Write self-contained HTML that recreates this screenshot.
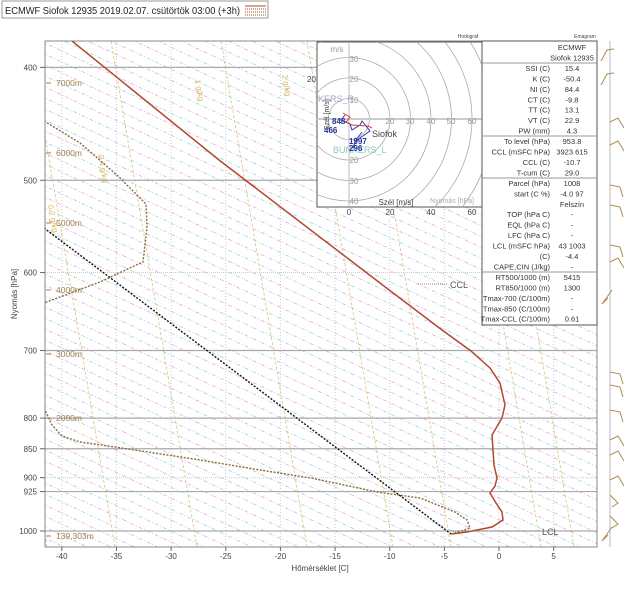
<!DOCTYPE html>
<html><head><meta charset="utf-8"><style>
html,body{margin:0;padding:0;background:#fff;overflow:hidden;width:640px;height:589px;}
svg{display:block;font-family:"Liberation Sans",sans-serif;}
</style></head><body>
<svg id="s" width="640" height="589" viewBox="0 0 640 589" xmlns="http://www.w3.org/2000/svg">
<defs><clipPath id="pc"><rect x="45" y="41" width="552" height="506"/></clipPath>
<clipPath id="hcp"><rect x="317" y="42" width="165" height="165"/></clipPath></defs>
<rect x="2" y="1" width="266" height="17" fill="#fff" stroke="#999"/>
<text x="5" y="14" font-size="9.8" fill="#222" textLength="235" lengthAdjust="spacingAndGlyphs">ECMWF Siofok 12935 2019.02.07. csütörtök 03:00 (+3h)</text>
<g stroke="#b5452e" stroke-width="1"><line x1="245" y1="6" x2="266" y2="6"/></g>
<g stroke="#a0522d" stroke-dasharray="1,1"><line x1="245" y1="9" x2="266" y2="9"/><line x1="245" y1="12" x2="266" y2="12"/><line x1="245" y1="15" x2="266" y2="15"/></g>
<g id="bg" clip-path="url(#pc)"></g>
<rect x="45" y="41" width="552" height="506" fill="none" stroke="#888"/>
<g clip-path="url(#pc)" fill="none">
<polyline stroke="#b5452e" stroke-width="1.5" points="72,41 219,160 380,283 442,330 471,351 490,368 500,383 505,405 502,418 492,435 493,450 494,465 497,478 495,486 490,493 496,503 502,512 503,520 492,527 467,532 451,534"/>
<polyline stroke="#8b6a3a" stroke-width="1.4" stroke-dasharray="2,1.5" points="44,121 80,143 118,176 146,204 147,227 143,262 134,266 100,282 44,303"/>
<polyline stroke="#8b6a3a" stroke-width="1.4" stroke-dasharray="2,1.5" points="44,408 52,425 62,436 80,442 115,447 200,460 260,470 311,478 377,492 420,498 430,502 455,512 467,520 470,528 452,534"/>
<polyline stroke="#111" stroke-width="1.4" stroke-dasharray="2,1.5" points="44,228 451,534"/>
<line x1="451" y1="531" x2="540" y2="531" stroke="#888" stroke-dasharray="1,1"/>
<line x1="418" y1="284" x2="447" y2="284" stroke="#888" stroke-dasharray="1,1"/>
</g>
<text x="542" y="535" font-size="9" fill="#555">LCL</text>
<text x="450" y="288" font-size="9" fill="#555">CCL</text>
<g>
<rect x="317" y="42" width="165" height="165" fill="#fff" stroke="#555"/>
<g fill="none" stroke="#aaa" stroke-width="0.8" id="hc" clip-path="url(#hcp)"></g>
<line x1="317" y1="119" x2="482" y2="119" stroke="#ccc" stroke-width="2"/>
<line x1="349" y1="42" x2="349" y2="207" stroke="#bbb"/>
<g font-size="8" fill="#999" text-anchor="middle">
<text x="354" y="62">30</text><text x="354" y="82">20</text><text x="354" y="103">10</text>
<text x="354" y="163">20</text><text x="354" y="184">30</text><text x="354" y="204">40</text>
<text x="390" y="124">20</text><text x="410" y="124">30</text><text x="431" y="124">40</text><text x="451" y="124">50</text><text x="472" y="124">60</text>
<text x="337" y="52">m/s</text>
</g>
<text x="452" y="203" font-size="7" fill="#aaa" text-anchor="middle">Nyomás [hPa]</text>
<text x="396" y="205" font-size="8" fill="#444" text-anchor="middle">Szél [m/s]</text>
<text x="329" y="130" font-size="7" fill="#444" transform="rotate(-90 329 130)">Szél [m/s]</text>
<text x="318" y="102" font-size="9" fill="#b39ad0">KERS_R</text>
<text x="333" y="153" font-size="9" fill="#8fc8c0">BUNKERS_L</text>
<polyline fill="none" stroke="#2a3bb0" points="345,115 341,120 350,124 352,130 360,125 362,121 366,126 370,131 360,138 355,142 353,148 356,140 362,132"/>
<polyline fill="none" stroke="#d04040" points="343,113 350,117 346,122 352,125 368,126 372,128"/>
<text x="332" y="124" font-size="8" font-weight="bold" fill="#223399">848</text>
<text x="324" y="133" font-size="8" font-weight="bold" fill="#223399">466</text>
<text x="349" y="144" font-size="8" font-weight="bold" fill="#223399">1997</text>
<text x="349" y="151" font-size="8" font-weight="bold" fill="#223399">296</text>
<text x="372" y="137" font-size="9" fill="#444">Siofok</text>
<text x="307" y="82" font-size="8" fill="#444">20</text>
<g font-size="8" fill="#444" text-anchor="middle"><text x="349" y="215">0</text><text x="390" y="215">20</text><text x="431" y="215">40</text><text x="472" y="215">60</text></g>
<text x="468" y="38" font-size="5" fill="#444" text-anchor="middle">Hodográf</text>
<text x="585" y="38" font-size="5" fill="#444" text-anchor="middle">Emagram</text>
</g>
<rect x="482" y="41" width="115" height="284" fill="#fff" stroke="#555"/>
<g stroke="#999"><line x1="482" y1="63" x2="597" y2="63"/><line x1="482" y1="136" x2="597" y2="136"/><line x1="482" y1="178" x2="597" y2="178"/><line x1="482" y1="272" x2="597" y2="272"/></g>
<g id="tb" font-size="7.5" fill="#333"></g>
<g id="ax" font-size="8" fill="#444"></g>
<text x="320" y="571" font-size="8" fill="#444" text-anchor="middle">Hőmérséklet [C]</text>
<text x="17" y="294" font-size="8" fill="#444" text-anchor="middle" transform="rotate(-90 17 294)">Nyomás [hPa]</text>
<g font-size="8.5" fill="#a08050">
<text x="56" y="86">7000m</text><text x="56" y="156">6000m</text><text x="56" y="226">5000m</text><text x="56" y="293">4000m</text><text x="56" y="357">3000m</text><text x="56" y="421">2000m</text><text x="56" y="539">139,303m</text>
</g>
<g stroke="#a08050"><line x1="46" y1="83" x2="51" y2="83"/><line x1="46" y1="153" x2="51" y2="153"/><line x1="46" y1="223" x2="51" y2="223"/><line x1="46" y1="290" x2="51" y2="290"/><line x1="46" y1="354" x2="51" y2="354"/><line x1="46" y1="418" x2="51" y2="418"/><line x1="46" y1="536" x2="51" y2="536"/></g>
<line x1="610" y1="41" x2="610" y2="547" stroke="#bbb"/>
<g stroke="#b08a50" fill="none" id="wb"></g>
</svg>
<script>
var NS="http://www.w3.org/2000/svg";
function el(p,t,a,txt){var e=document.createElementNS(NS,t);for(var k in a)e.setAttribute(k,a[k]);if(txt!==undefined)e.textContent=txt;document.getElementById(p).appendChild(e);return e;}
function X(T){return 499+10.93*T;}
function Y(p){return 531-506*Math.log(1000/p);}
for(var i=-60;i<60;i++){var y0=i*11;var c=(((i%2)+2)%2==0)?"#d0a8d0":"#8fd0d8";
el("bg","line",{x1:0,y1:y0,x2:640,y2:y0+300,stroke:c,"stroke-width":0.7,"stroke-dasharray":"4,2,1,2"});}
for(var T=-45;T<=10;T+=5){el("bg","line",{x1:X(T),y1:41,x2:X(T),y2:547,stroke:"#ccc","stroke-dasharray":"1,2"});}
var mx=[47,115,197,307,393,451,541,574,640];
mx.forEach(function(b){el("bg","line",{x1:b,y1:547,x2:b-0.17*506,y2:41,stroke:"#e0c070","stroke-width":0.8,"stroke-dasharray":"3,2"});});
el("bg","text",{x:0,y:0,"font-size":8,fill:"#d8b860",transform:"translate(98,155) rotate(80)"},"0.4 g/kg");
el("bg","text",{x:0,y:0,"font-size":8,fill:"#d8b860",transform:"translate(195,80) rotate(80)"},"1 g/kg");
el("bg","text",{x:0,y:0,"font-size":8,fill:"#d8b860",transform:"translate(282,75) rotate(80)"},"2 g/kg");
el("bg","text",{x:0,y:0,"font-size":8,fill:"#d8b860",transform:"translate(48,205) rotate(80)"},"0.2 g/kg");
[[400,1],[500,1],[600,0],[700,1],[800,1],[850,1],[900,0],[925,1],[1000,1]].forEach(function(q){
 var y=Y(q[0]);el("bg","line",{x1:45,y1:y,x2:597,y2:y,stroke:q[1]?"#aaa":"#ccc","stroke-width":q[1]?1.2:1,"stroke-dasharray":q[1]?"none":"1,1"});
 el("ax","text",{x:37,y:y+3,"text-anchor":"end"},q[0]);el("ax","line",{x1:40,y1:y,x2:45,y2:y,stroke:"#666"});});
for(var T=-40;T<=5;T+=5){el("ax","text",{x:X(T),y:559,"text-anchor":"middle"},T);el("ax","line",{x1:X(T),y1:547,x2:X(T),y2:551,stroke:"#666"});}
for(var r=1;r<=7;r++)el("hc","circle",{cx:349,cy:119,r:20.5*r});
var rows=[["","ECMWF"],["","Siofok 12935"],["SSI (C)","15.4"],["K (C)","-50.4"],["NI (C)","84.4"],["CT (C)","-9.8"],["TT (C)","13.1"],["VT (C)","22.9"],["PW (mm)","4.3"],["To level (hPa)","953.8"],["CCL (mSFC  hPa)","3923  615"],["CCL (C)","-10.7"],["T-cum (C)","29.0"],["Parcel  (hPa)","1008"],["start (C  %)","-4.0  97"],["","Felszín"],["TOP (hPa  C)","-"],["EQL (hPa  C)","-"],["LFC (hPa  C)","-"],["LCL (mSFC  hPa)","43  1003"],["(C)","-4.4"],["CAPE,CIN (J/kg)","-"],["RT500/1000 (m)","5415"],["RT850/1000 (m)","1300"],["Tmax-700 (C/100m)","-"],["Tmax-850 (C/100m)","-"],["Tmax-CCL (C/100m)","0.61"]];
rows.forEach(function(r,i){var y=50+i*10.45;el("tb","text",{x:550,y:y,"text-anchor":"end"},r[0]);el("tb","text",{x:572,y:y,"text-anchor":"middle"},r[1]);});
[[51,-1],[75,-1],[122,1],[145,1],[185,0],[205,0],[245,0],[262,1],[298,2],[372,0],[385,0],[410,0],[440,1],[455,1],[480,1],[495,3],[516,3],[535,2]].forEach(function(b){
 var y=b[0],t=b[1],d;
 if(t==-1)d="M601 "+(y+10)+" L607 "+(y-1)+" L614 "+(y-2);
 else if(t==0)d="M610 "+y+" L620 "+(y+2)+" L623 "+(y+12);
 else if(t==1)d="M610 "+y+" L618 "+(y-4)+" L624 "+(y+6);
 else if(t==2)d="M612 "+(y-8)+" L602 "+(y+6)+" L608 "+y;
 else d="M610 "+y+" L618 "+(y+8)+" L612 "+(y+12);
 el("wb","path",{d:d});});
</script>
</body></html>
